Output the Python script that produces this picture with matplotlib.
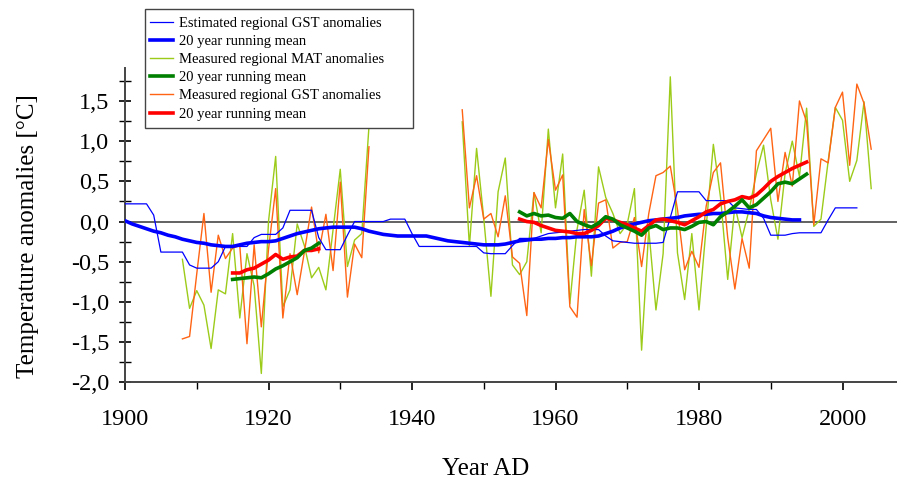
import matplotlib
matplotlib.use("Agg")
import matplotlib.pyplot as plt
from matplotlib.ticker import FixedLocator, FuncFormatter
from matplotlib.patches import Rectangle
import numpy as np

plt.rcParams['font.family'] = ['Liberation Serif', 'DejaVu Serif']

# ---------------- data ----------------
est_years = list(range(1900, 2003))
est_gst = [0.22, 0.22, 0.22, 0.22, 0.08, -0.38, -0.38, -0.38, -0.38, -0.54,
           -0.58, -0.58, -0.58, -0.50, -0.31, -0.31, -0.31, -0.31, -0.20, -0.16,
           -0.16, -0.16, -0.08, 0.14, 0.14, 0.14, 0.14, -0.20, -0.35, -0.35,
           -0.35, -0.17, 0.00, 0.00, 0.00, 0.00, 0.00, 0.03, 0.03, 0.03,
           -0.15, -0.31, -0.31, -0.31, -0.31, -0.31, -0.31, -0.31, -0.31, -0.31,
           -0.39, -0.40, -0.40, -0.40, -0.30, -0.21, -0.21, -0.21, -0.18, -0.15,
           -0.14, -0.13, -0.12, -0.11, -0.10, -0.10, -0.10, -0.18, -0.24, -0.25,
           -0.26, -0.27, -0.27, -0.27, -0.27, -0.26, 0.05, 0.37, 0.37, 0.37,
           0.37, 0.26, 0.26, 0.26, 0.26, 0.17, 0.16, 0.15, 0.15, 0.04,
           -0.17, -0.17, -0.17, -0.15, -0.14, -0.14, -0.14, -0.14, 0.02, 0.17,
           0.17, 0.17, 0.17]

est_mean_years = list(range(1900, 1995))
est_mean = [0.01, -0.03, -0.06, -0.09, -0.12, -0.14, -0.17, -0.19, -0.22, -0.24,
            -0.26, -0.27, -0.29, -0.30, -0.31, -0.31, -0.29, -0.27, -0.26, -0.25,
            -0.25, -0.24, -0.21, -0.18, -0.15, -0.13, -0.11, -0.09, -0.08, -0.07,
            -0.07, -0.07, -0.07, -0.09, -0.12, -0.14, -0.16, -0.17, -0.18, -0.18,
            -0.18, -0.18, -0.18, -0.20, -0.22, -0.24, -0.25, -0.26, -0.27, -0.28,
            -0.29, -0.29, -0.29, -0.28, -0.26, -0.24, -0.23, -0.22, -0.22, -0.21,
            -0.21, -0.20, -0.20, -0.19, -0.19, -0.19, -0.18, -0.15, -0.12, -0.08,
            -0.05, -0.03, -0.01, 0.01, 0.02, 0.03, 0.04, 0.05, 0.07, 0.08,
            0.09, 0.09, 0.10, 0.10, 0.11, 0.12, 0.12, 0.11, 0.10, 0.07,
            0.05, 0.04, 0.03, 0.02, 0.02]

meas_years_1 = list(range(1908, 1935))
mat_1 = [-0.47, -1.08, -0.86, -1.04, -1.58, -0.85, -0.90, -0.15, -1.20, -0.40,
         -0.80, -1.89, 0.00, 0.81, -1.06, -0.85, -0.03, -0.30, -0.70, -0.57,
         -0.85, -0.10, 0.65, -0.56, -0.23, -0.15, 1.18]
gst_1 = [-1.46, -1.43, -0.65, 0.10, -0.88, -0.17, -0.46, -0.33, -0.30, -1.52,
         -0.29, -1.31, -0.35, 0.41, -1.20, -0.40, -0.91, -0.38, 0.18, -0.39,
         0.09, -0.61, 0.49, -0.94, -0.28, -0.45, 0.93]

meas_years_2 = list(range(1947, 2005))
mat_2 = [1.24, -0.31, 0.91, 0.04, -0.93, 0.37, 0.79, -0.54, -0.66, -0.50,
         0.36, -0.14, 1.15, 0.17, 0.84, -1.02, -0.10, 0.39, -0.68, 0.68,
         0.30, 0.10, -0.15, -0.03, 0.41, -1.60, -0.10, -1.10, -0.40, 1.80,
         -0.39, -0.97, -0.15, -1.10, -0.07, 0.96, 0.30, -0.72, 0.20, -0.20,
         0.15, 0.60, 0.95, 0.27, -0.22, 0.60, 1.00, 0.56, 1.41, -0.06,
         0.03, 0.75, 1.42, 1.26, 0.50, 0.76, 1.49, 0.41]
gst_2 = [1.39, 0.17, 0.57, 0.03, 0.10, -0.19, 0.32, -0.44, -0.52, -1.17,
         0.36, 0.17, 1.02, 0.39, 0.58, -1.06, -1.19, 0.15, -0.55, 0.23,
         0.27, -0.33, -0.26, -0.25, 0.05, -0.56, 0.10, 0.57, 0.61, 0.69,
         0.15, -0.60, -0.37, -0.57, 0.19, 0.61, 0.73, -0.20, -0.84, -0.21,
         -0.58, 0.88, 1.02, 1.16, 0.25, 0.86, 0.44, 1.50, 1.24, -0.04,
         0.78, 0.73, 1.42, 1.61, 0.70, 1.71, 1.47, 0.90]

mean_years_1 = list(range(1915, 1928))
mat_mean_1 = [-0.72, -0.71, -0.70, -0.69, -0.70, -0.65, -0.59, -0.55, -0.50,
              -0.45, -0.36, -0.33, -0.27]
gst_mean_1 = [-0.64, -0.64, -0.60, -0.58, -0.53, -0.48, -0.41, -0.47, -0.44,
              -0.43, -0.36, -0.36, -0.34]

mean_years_2 = list(range(1955, 1996))
mat_mean_2 = [0.12, 0.07, 0.10, 0.07, 0.08, 0.05, 0.04, 0.10, 0.00, -0.04,
              -0.07, -0.02, 0.06, 0.03, -0.04, -0.08, -0.12, -0.17, -0.08, -0.05,
              -0.10, -0.08, -0.08, -0.10, -0.06, -0.01, 0.00, -0.04, 0.06, 0.12,
              0.19, 0.27, 0.17, 0.21, 0.29, 0.37, 0.47, 0.49, 0.47, 0.53, 0.59]
gst_mean_2 = [0.03, 0.00, -0.01, -0.05, -0.08, -0.11, -0.12, -0.13, -0.15, -0.15,
              -0.11, -0.05, 0.04, 0.02, -0.01, -0.04, -0.08, -0.12, -0.05, 0.02,
              0.03, 0.01, -0.01, -0.04, 0.01, 0.06, 0.12, 0.15, 0.22, 0.25,
              0.27, 0.31, 0.29, 0.33, 0.41, 0.50, 0.56, 0.61, 0.66, 0.70, 0.74]

y_ticks = [-2.0, -1.5, -1.0, -0.5, 0.0, 0.5, 1.0, 1.5]
y_minor = [-1.75, -1.25, -0.75, -0.25, 0.25, 0.75, 1.25, 1.75]
x_ticks = [1900, 1920, 1940, 1960, 1980, 2000]
x_minor = [1910, 1930, 1950, 1970, 1990]

labels = ["Estimated regional GST anomalies", "20 year running mean",
          "Measured regional MAT anomalies", "20 year running mean",
          "Measured regional GST anomalies", "20 year running mean"]

# ---------------- style ----------------
C_BLUE = "#0000FF"
C_MAT = "#9CCB19"
C_GST = "#FF6414"
C_GREEN = "#008000"
C_RED = "#FF0000"

W, H = 897, 479
fig = plt.figure(figsize=(W / 100, H / 100), dpi=100)
ax = fig.add_axes([125 / W, (H - 382.3) / H, 772 / W, 314.3 / H])

ax.axhline(0, color="#555555", lw=1.3, zorder=1)

h_mat, = ax.plot(meas_years_1, mat_1, color=C_MAT, lw=1.0, zorder=2)
ax.plot(meas_years_2, mat_2, color=C_MAT, lw=1.0, zorder=2)
h_gst, = ax.plot(meas_years_1, gst_1, color=C_GST, lw=1.0, zorder=3)
ax.plot(meas_years_2, gst_2, color=C_GST, lw=1.0, zorder=3)
h_est, = ax.plot(est_years, est_gst, color=C_BLUE, lw=0.9, zorder=4)
h_estm, = ax.plot(est_mean_years, est_mean, color=C_BLUE, lw=2.6, zorder=5)
h_gstm, = ax.plot(mean_years_1, gst_mean_1, color=C_RED, lw=2.6, zorder=6)
ax.plot(mean_years_2, gst_mean_2, color=C_RED, lw=2.6, zorder=6)
h_matm, = ax.plot(mean_years_1, mat_mean_1, color=C_GREEN, lw=2.6, zorder=7)
ax.plot(mean_years_2, mat_mean_2, color=C_GREEN, lw=2.6, zorder=7)

ax.set_xlim(1900, 1900 + 772 / 7.175)
ax.set_ylim(-2.0, 1.91)

for s in ["top", "right"]:
    ax.spines[s].set_visible(False)
for s in ["left", "bottom"]:
    ax.spines[s].set_color("#444444")
    ax.spines[s].set_linewidth(1.4)

ax.xaxis.set_major_locator(FixedLocator(x_ticks))
ax.xaxis.set_minor_locator(FixedLocator(x_minor))
ax.yaxis.set_major_locator(FixedLocator(y_ticks))
ax.yaxis.set_minor_locator(FixedLocator(y_minor))
ax.yaxis.set_major_formatter(FuncFormatter(lambda v, p: f"{v + 0.0:.1f}".replace(".", ",")))
ax.xaxis.set_major_formatter(FuncFormatter(lambda v, p: f"{int(round(v))}"))

ax.tick_params(axis="x", which="major", direction="out", length=5.5, width=1.2,
               labelsize=17.5, pad=14, color="black")
ax.tick_params(axis="x", which="minor", direction="out", length=5, width=1.0, color="black")
ax.tick_params(axis="y", which="major", direction="inout", length=8.5, width=1.2,
               labelsize=17.5, pad=7, color="black")
ax.tick_params(axis="y", which="minor", direction="inout", length=8.5, width=1.0, color="black")

ax.set_ylabel("Temperature anomalies [°C]", fontsize=18)
ax.set_xlabel("Year AD", fontsize=18)
ax.yaxis.set_label_coords(-0.111, 0.465)
ax.xaxis.set_label_coords(0.467, -0.24)

# legend box (frame drawn separately to match the reference extent)
fig.patches.append(Rectangle((145 / W, 1 - 127.7 / H), (413 - 145) / W, (127.7 - 9.3) / H,
                             transform=fig.transFigure, facecolor="white",
                             edgecolor="#444444", linewidth=1.0, zorder=10))
leg = fig.legend([h_est, h_estm, h_mat, h_matm, h_gst, h_gstm], labels,
                 loc="upper left", bbox_to_anchor=(145 / W, 1 - 11.5 / H),
                 bbox_transform=fig.transFigure, fontsize=10.5, frameon=False,
                 borderaxespad=0, borderpad=0.35,
                 handlelength=1.55, handletextpad=0.45, labelspacing=0.34)
leg.set_zorder(11)

fig.savefig("out.png", dpi=100)
